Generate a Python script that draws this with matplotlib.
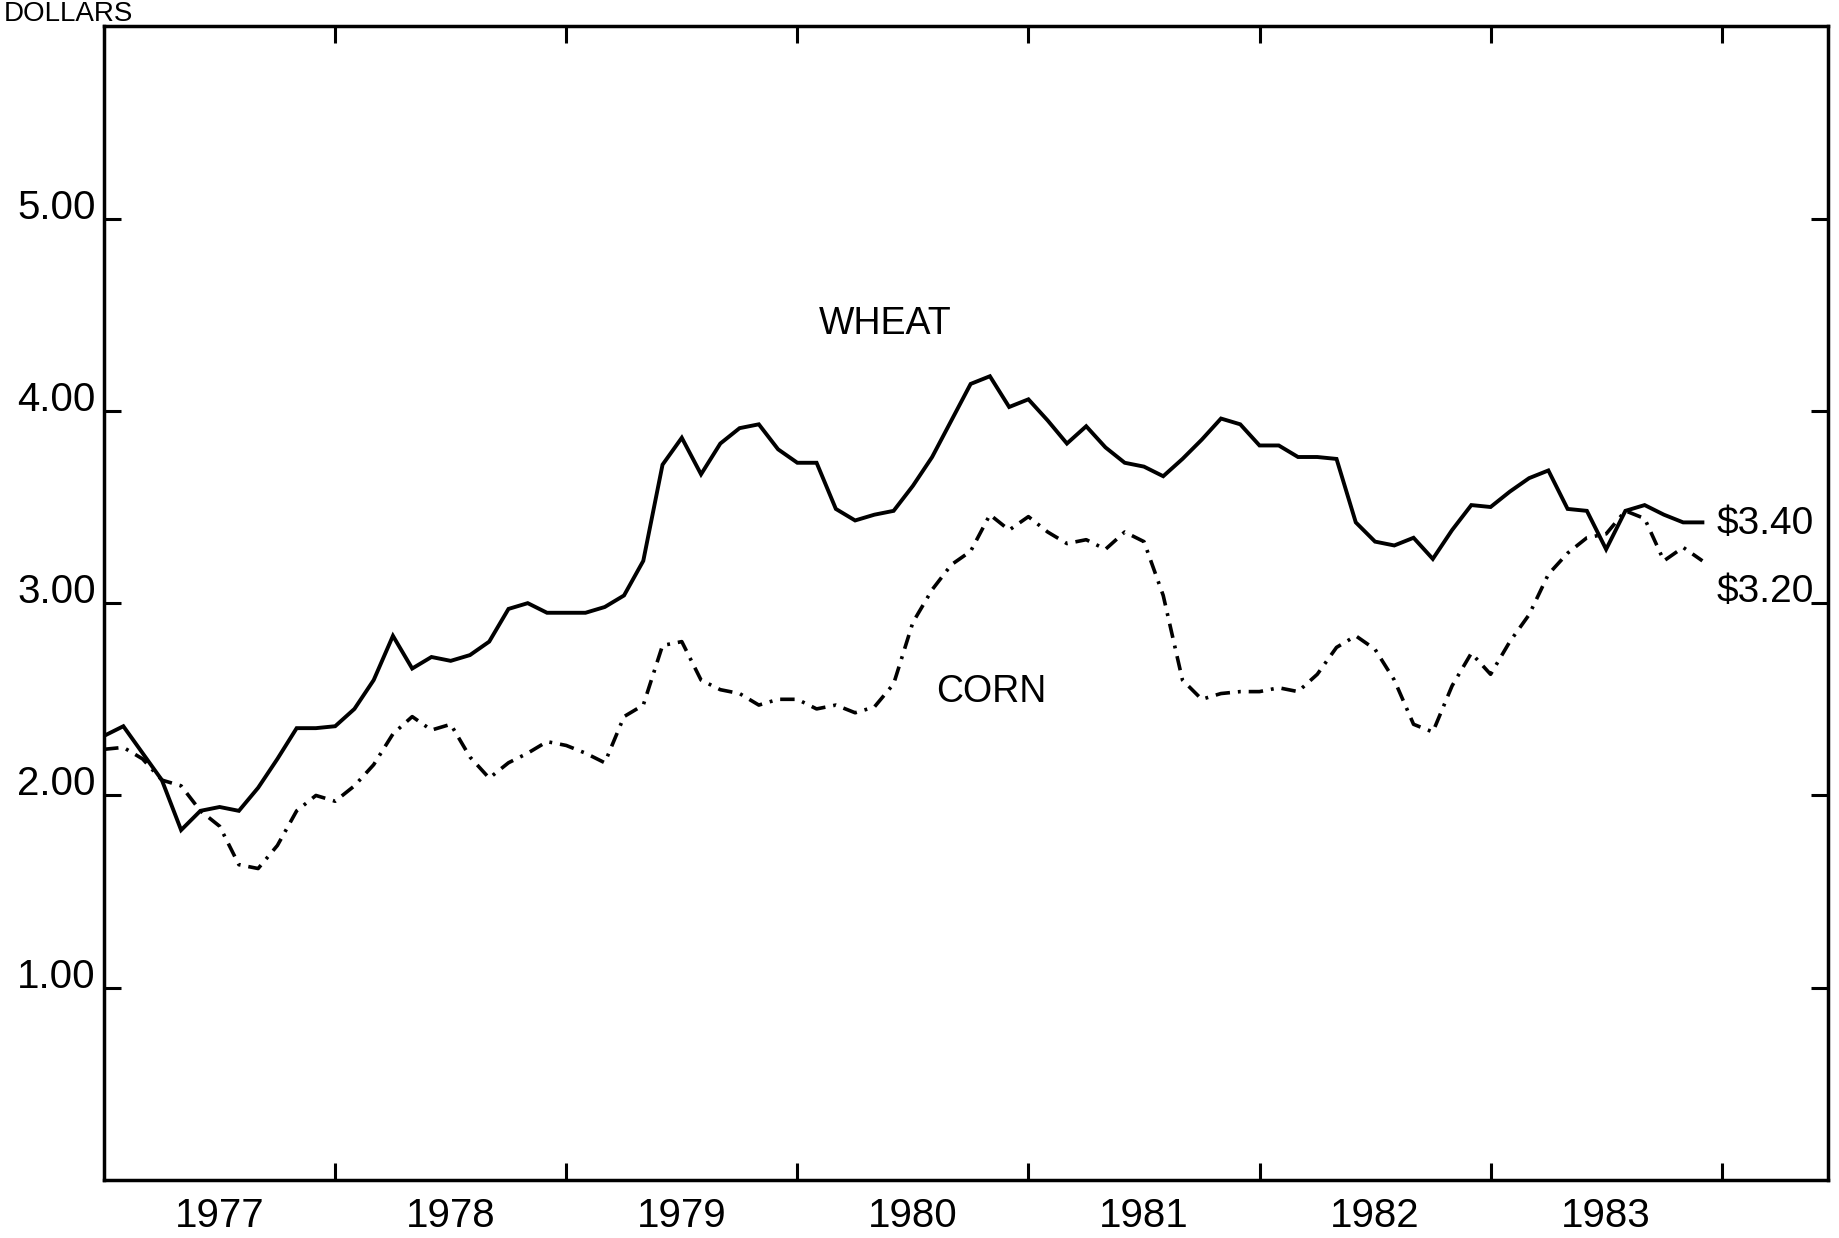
import numpy as np
import matplotlib.pyplot as plt

# monthly prices, Jan 1977 - Dec 1983 (dollars per bushel)
wheat = [2.31, 2.36, 2.22, 2.08, 1.82, 1.92, 1.94, 1.92, 2.04, 2.19, 2.35, 2.35,
         2.36, 2.45, 2.60, 2.83, 2.66, 2.72, 2.70, 2.73, 2.80, 2.97, 3.00, 2.95,
         2.95, 2.95, 2.98, 3.04, 3.22, 3.72, 3.86, 3.67, 3.83, 3.91, 3.93, 3.80,
         3.73, 3.73, 3.49, 3.43, 3.46, 3.48, 3.61, 3.76, 3.95, 4.14, 4.18, 4.02,
         4.06, 3.95, 3.83, 3.92, 3.81, 3.73, 3.71, 3.66, 3.75, 3.85, 3.96, 3.93,
         3.82, 3.82, 3.76, 3.76, 3.75, 3.42, 3.32, 3.30, 3.34, 3.23, 3.38, 3.51,
         3.50, 3.58, 3.65, 3.69, 3.49, 3.48, 3.28, 3.48, 3.51, 3.46, 3.42, 3.42]
corn = [2.24, 2.25, 2.19, 2.08, 2.05, 1.92, 1.84, 1.64, 1.62, 1.74, 1.92, 2.00,
        1.97, 2.05, 2.16, 2.32, 2.41, 2.34, 2.37, 2.20, 2.09, 2.17, 2.22, 2.28,
        2.26, 2.22, 2.17, 2.41, 2.47, 2.78, 2.80, 2.60, 2.55, 2.53, 2.47, 2.50,
        2.50, 2.45, 2.47, 2.43, 2.46, 2.58, 2.90, 3.07, 3.20, 3.27, 3.46, 3.38,
        3.45, 3.37, 3.31, 3.33, 3.28, 3.37, 3.32, 3.04, 2.60, 2.50, 2.53, 2.54,
        2.54, 2.56, 2.54, 2.63, 2.77, 2.83, 2.76, 2.60, 2.37, 2.33, 2.57, 2.74,
        2.63, 2.80, 2.94, 3.15, 3.26, 3.34, 3.36, 3.48, 3.44, 3.22, 3.29, 3.22]
years = [1977, 1978, 1979, 1980, 1981, 1982, 1983]
yticks = [1, 2, 3, 4, 5]
ytick_labels = ["1.00", "2.00", "3.00", "4.00", "5.00"]
end_labels = ["$3.40", "$3.20"]

plt.rcParams['font.family'] = ['Liberation Sans', 'DejaVu Sans']
fs = 29

fig = plt.figure(figsize=(18.39, 12.38), dpi=100)
ax = fig.add_axes([0.0566, 0.0468, 0.9374, 0.932])

t = 1977 + np.arange(len(wheat)) / 12
ax.plot(t, wheat, color="black", lw=2.8, solid_joinstyle="miter")
ax.plot(t, corn, color="black", lw=2.6, linestyle=(0, (4, 2.2, 0.8, 2.2)))

ax.set_xlim(1977, 1984.46)
ax.set_ylim(0, 6)

# year boundaries as ticks, labels centred in each year
ax.set_xticks(np.arange(1978, 1985))
ax.set_xticklabels([])
ax.set_xticks([y + 0.5 for y in years], minor=True)
ax.set_xticklabels([str(y) for y in years], minor=True, fontsize=fs)
ax.tick_params(axis="x", which="minor", length=0, pad=12)
ax.tick_params(axis="both", which="major", direction="in", length=12, width=2.2,
               top=True, right=True)

ax.set_yticks(yticks)
ax.set_yticklabels(ytick_labels, fontsize=fs)
ax.tick_params(axis="y", pad=6)
for lab in ax.get_yticklabels():
    lab.set_verticalalignment("baseline")

for s in ax.spines.values():
    s.set_linewidth(2.5)

ax.text(1980.38, 4.45, "WHEAT", fontsize=fs - 2, ha="center", va="center")
ax.text(1980.84, 2.54, "CORN", fontsize=fs - 2, ha="center", va="center")
ax.text(1983.98, 3.41, end_labels[0], fontsize=fs - 1, ha="left", va="center")
ax.text(1983.98, 3.06, end_labels[1], fontsize=fs - 1, ha="left", va="center")

fig.text(0.002, 0.999, "DOLLARS", fontsize=20, ha="left", va="top")

fig.savefig("out.png", dpi=100)
